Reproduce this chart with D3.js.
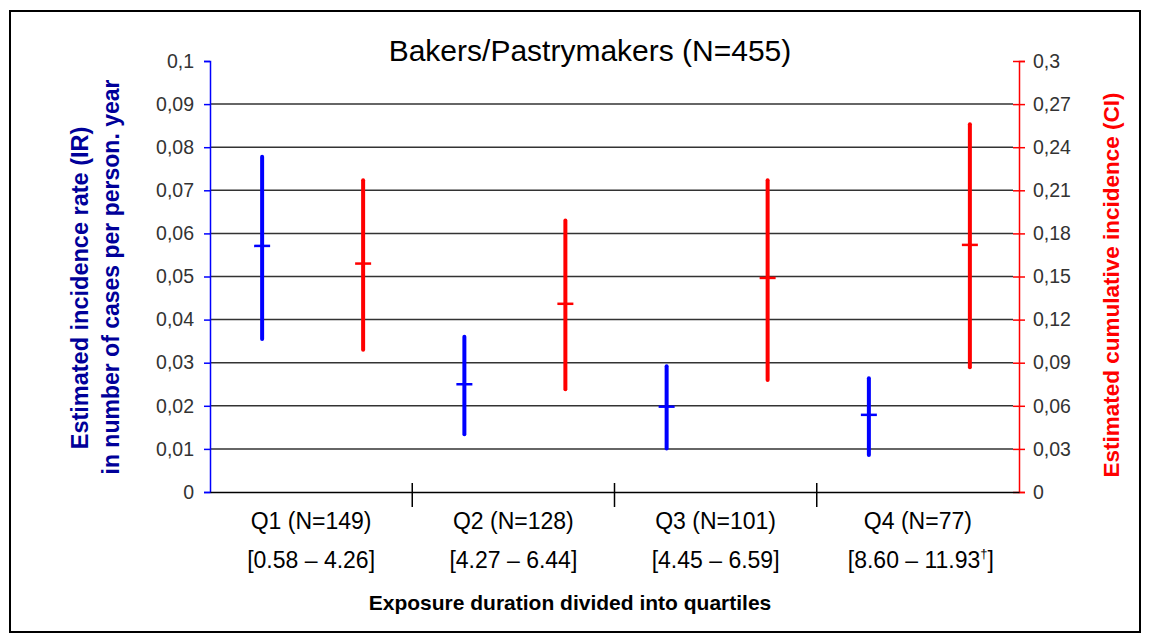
<!DOCTYPE html>
<html><head><meta charset="utf-8">
<script src="https://cdnjs.cloudflare.com/ajax/libs/d3/7.8.5/d3.min.js"></script>
<style>body{margin:0;background:#fff;} svg{display:block;font-family:"Liberation Sans",Arial,sans-serif;}</style>
</head><body>
<svg id="c" width="1151" height="643"></svg>
<script>
const categories = ["Q1 (N=149)", "Q2 (N=128)", "Q3 (N=101)", "Q4 (N=77)"];
const ranges = ["[0.58 \u2013 4.26]", "[4.27 \u2013 6.44]", "[4.45 \u2013 6.59]", "[8.60 \u2013 11.93"];
const rangeSup = ["", "", "", "\u2020"];
const irMean = [0.0571, 0.0250, 0.0198, 0.0179];
const irLow  = [0.0355, 0.0134, 0.0101, 0.0086];
const irHigh = [0.0778, 0.0360, 0.0292, 0.0264];
const ciMean = [0.159, 0.131, 0.149, 0.172];
const ciLow  = [0.099, 0.0715, 0.078, 0.0868];
const ciHigh = [0.217, 0.189, 0.217, 0.256];
const leftTicks = [0,0.01,0.02,0.03,0.04,0.05,0.06,0.07,0.08,0.09,0.1];
const rightTicks = [0,0.03,0.06,0.09,0.12,0.15,0.18,0.21,0.24,0.27,0.3];

const svg = d3.select("#c");
const L = 210, R = 1019, T = 61, B = 492;
const blue = "#0000ff", red = "#ff0000";
const FONT = "Liberation Sans, Arial, sans-serif";

svg.append("rect").attr("x",10).attr("y",11).attr("width",1130).attr("height",621)
  .attr("fill","#fff").attr("stroke","#000").attr("stroke-width",2);

const x = d3.scaleBand().domain(categories).range([L, R]);
const yL = d3.scaleLinear().domain([0, 0.1]).range([B, T]);
const yR = d3.scaleLinear().domain([0, 0.3]).range([B, T]);
const fmt = v => String(+v.toFixed(2)).replace(".", ",");

// gridlines
svg.append("g").selectAll("line").data(leftTicks.filter(d => d > 0 && d < 0.1)).join("line")
  .attr("x1", L).attr("x2", R - 6).attr("y1", d => yL(d)).attr("y2", d => yL(d))
  .attr("stroke", "#333").attr("stroke-width", 1.5);

// left axis
const gL = svg.append("g").attr("transform", `translate(${L},0)`)
  .call(d3.axisLeft(yL).tickValues(leftTicks).tickSize(6).tickPadding(10).tickFormat(fmt));
gL.select(".domain").attr("stroke", blue).attr("stroke-width", 1.5);
gL.selectAll(".tick line").attr("stroke", blue).attr("stroke-width", 1.5);
gL.selectAll(".tick text").attr("fill", "#333").style("font-size", "19.5px").style("font-family", FONT);

// right axis
const gR = svg.append("g").attr("transform", `translate(${R},0)`)
  .call(d3.axisRight(yR).tickValues(rightTicks).tickSize(6).tickPadding(8).tickFormat(fmt));
gR.select(".domain").attr("stroke", red).attr("stroke-width", 1.5);
gR.selectAll(".tick line").attr("stroke", red).attr("stroke-width", 1.5).attr("x1", -6);
gR.selectAll(".tick text").attr("fill", "#333").style("font-size", "19.5px").style("font-family", FONT);

// x axis
const gX = svg.append("g").attr("transform", `translate(0,${B})`)
  .call(d3.axisBottom(x).tickSize(0).tickFormat(""));
gX.select(".domain").attr("stroke", "#000").attr("stroke-width", 1.5);
gX.selectAll(".tick").remove();
svg.append("g").selectAll("line").data(categories.slice(1)).join("line")
  .attr("x1", d => x(d)).attr("x2", d => x(d)).attr("y1", B - 9).attr("y2", B + 15)
  .attr("stroke", "#000").attr("stroke-width", 1.5);

// category labels
const lab = svg.append("g").attr("font-size", "23px").attr("fill", "#000").attr("text-anchor", "middle");
lab.selectAll("text.cat").data(categories).join("text").attr("class","cat")
  .attr("x", d => x(d) + x.bandwidth()/2).attr("y", 529).text(d => d);
const rt = lab.selectAll("text.rng").data(ranges).join("text").attr("class","rng")
  .attr("x", (d,i) => x(categories[i]) + x.bandwidth()/2 + (rangeSup[i] ? 3 : 0)).attr("y", 568);
rt.append("tspan").text(d => d);
rt.append("tspan").attr("dy", -10).attr("font-size", "13px").text((d,i) => rangeSup[i]);
rt.append("tspan").attr("dy", 10).text((d,i) => rangeSup[i] ? "]" : "");

// error bars
const offB = -49, offR = 52;
function drawBars(lo, hi, mean, off, ys, col) {
  const g = svg.append("g");
  g.selectAll("line.v").data(categories).join("line").attr("class","v")
    .attr("x1", (d,i) => x(d) + x.bandwidth()/2 + off).attr("x2", (d,i) => x(d) + x.bandwidth()/2 + off)
    .attr("y1", (d,i) => ys(lo[i])).attr("y2", (d,i) => ys(hi[i]))
    .attr("stroke", col).attr("stroke-width", 4).attr("stroke-linecap", "round");
  g.selectAll("line.m").data(categories).join("line").attr("class","m")
    .attr("x1", (d,i) => x(d) + x.bandwidth()/2 + off - 8).attr("x2", (d,i) => x(d) + x.bandwidth()/2 + off + 8)
    .attr("y1", (d,i) => ys(mean[i])).attr("y2", (d,i) => ys(mean[i]))
    .attr("stroke", col).attr("stroke-width", 2.5);
}
drawBars(irLow, irHigh, irMean, offB, yL, blue);
drawBars(ciLow, ciHigh, ciMean, offR, yR, red);

// title
svg.append("text").attr("x", 590).attr("y", 61).attr("text-anchor", "middle")
  .attr("font-size", "30px").attr("fill", "#000").text("Bakers/Pastrymakers (N=455)");

// axis titles
svg.append("text").attr("transform", `translate(88,288) rotate(-90)`).attr("text-anchor","middle")
  .attr("font-size","23.5px").attr("font-weight","bold").attr("fill","#000099").text("Estimated incidence rate (IR)");
svg.append("text").attr("transform", `translate(119,277) rotate(-90)`).attr("text-anchor","middle")
  .attr("font-size","23px").attr("font-weight","bold").attr("fill","#000099").text("in number of cases per person. year");
svg.append("text").attr("transform", `translate(1119,285) rotate(-90)`).attr("text-anchor","middle")
  .attr("font-size","22.5px").attr("font-weight","bold").attr("fill",red).text("Estimated cumulative incidence (CI)");
svg.append("text").attr("x", 570).attr("y", 610).attr("text-anchor","middle")
  .attr("font-size","21px").attr("font-weight","bold").attr("fill","#000").text("Exposure duration divided into quartiles");
</script>
</body></html>
